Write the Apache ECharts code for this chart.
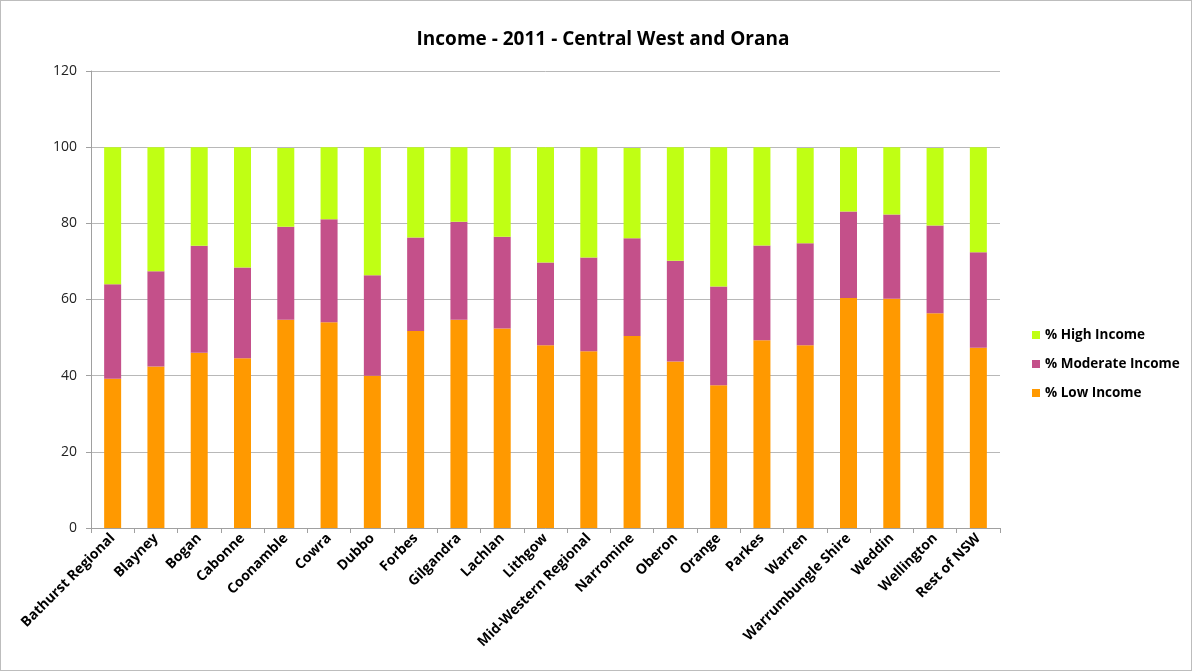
<!DOCTYPE html>
<html><head><meta charset="utf-8">
<script src="https://cdn.jsdelivr.net/npm/echarts@6/dist/echarts.min.js"></script>
<style>
html,body{margin:0;padding:0;background:#fff;}
#c{position:absolute;left:0;top:0;width:1190px;height:669px;border:1px solid #bdbdbd;}
</style></head>
<body><div id="c"></div>
<script>
const categories = ['Bathurst Regional','Blayney','Bogan','Cabonne','Coonamble','Cowra','Dubbo','Forbes','Gilgandra','Lachlan','Lithgow','Mid-Western Regional','Narromine','Oberon','Orange','Parkes','Warren','Warrumbungle Shire','Weddin','Wellington','Rest of NSW'];
const lowIncome = [39.2,42.4,46.0,44.6,54.7,54.0,40.0,51.7,54.7,52.4,48.0,46.4,50.4,43.7,37.5,49.3,48.0,60.4,60.2,56.4,47.3];
const moderateIncome = [24.8,25.0,28.1,23.8,24.4,27.1,26.4,24.6,25.7,24.1,21.7,24.6,25.7,26.5,25.9,24.9,26.8,22.7,22.1,23.0,25.1];
const highIncome = [36.0,32.6,25.9,31.6,20.7,18.9,33.6,23.7,19.6,23.5,30.3,29.0,23.7,29.8,36.6,25.8,25.0,16.9,17.7,20.4,27.6];
const yTicks = {min:0, max:120, interval:20};

const chart = echarts.init(document.getElementById('c'));
const font = 'Open Sans, Liberation Sans, sans-serif';
chart.setOption({
  animation:false,
  backgroundColor:'#fff',
  title:{text:'Income - 2011 - Central West and Orana', left:597, top:24, textAlign:'center',
    textStyle:{fontFamily:font, fontSize:19, fontWeight:'bold', color:'#000'}},
  legend:{orient:'vertical', left:1026, top:322, itemGap:15, itemWidth:8, itemHeight:8,
    icon:'rect', data:['% High Income','% Moderate Income','% Low Income'],
    textStyle:{fontFamily:font, fontSize:13.5, fontWeight:'bold', color:'#000'}},
  grid:{left:90, right:191, top:70, bottom:142},
  xAxis:{type:'category', data:categories, boundaryGap:true,
    axisLine:{lineStyle:{color:'#a0a0a0'}},
    axisTick:{show:true, alignWithLabel:false, length:5, lineStyle:{color:'#a0a0a0'}},
    axisLabel:{rotate:45, interval:0, margin:8, fontFamily:font, fontSize:14, fontWeight:'bold', color:'#000'}},
  yAxis:{type:'value', min:yTicks.min, max:yTicks.max, interval:yTicks.interval,
    axisLine:{show:true, lineStyle:{color:'#a0a0a0'}},
    axisTick:{show:true, length:5, lineStyle:{color:'#a0a0a0'}},
    splitLine:{lineStyle:{color:'#b8b8b8', width:1}},
    axisLabel:{fontFamily:font, fontSize:14, color:'#222', margin:14}},
  series:[
    {name:'% Low Income', type:'bar', stack:'s', data:lowIncome, barWidth:17, itemStyle:{color:'#ff9900'}},
    {name:'% Moderate Income', type:'bar', stack:'s', data:moderateIncome, barWidth:17, itemStyle:{color:'#c4508a'}},
    {name:'% High Income', type:'bar', stack:'s', data:highIncome, barWidth:17, itemStyle:{color:'#c0ff14'}}
  ]
});
</script></body></html>
